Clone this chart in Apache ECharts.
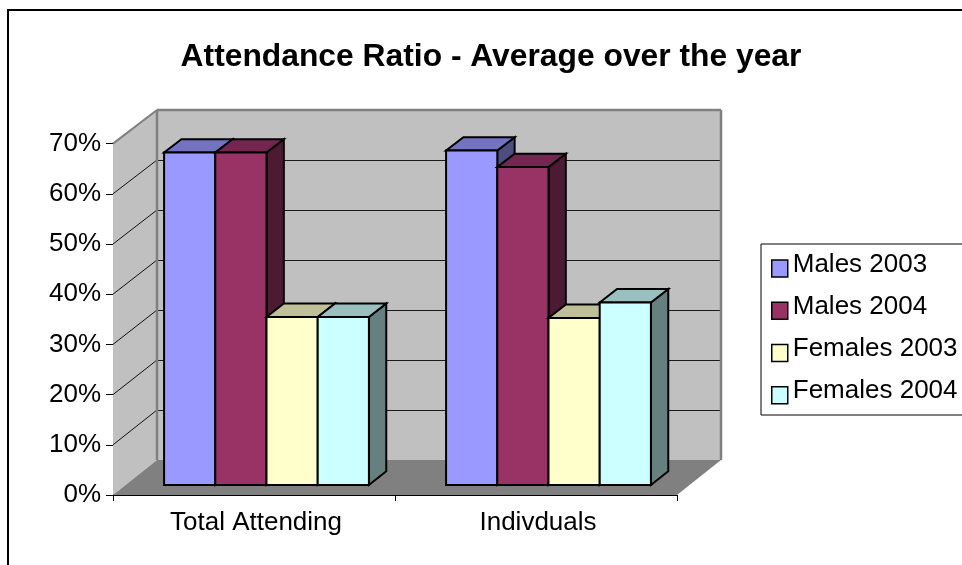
<!DOCTYPE html>
<html>
<head>
<meta charset="utf-8">
<style>
  html, body { margin: 0; padding: 0; background: #fff; }
  #chart { width: 962px; height: 565px; }
</style>
<script src="https://cdn.jsdelivr.net/npm/echarts@6/dist/echarts.min.js"></script>
</head>
<body>
<div id="chart"></div>
<script>
const categories = ['Total Attending', 'Indivduals'];
const seriesNames = ['Males 2003', 'Males 2004', 'Females 2003', 'Females 2004'];
const males2003 = [0.663, 0.667];
const males2004 = [0.663, 0.634];
const females2003 = [0.335, 0.333];
const females2004 = [0.335, 0.364];
const frontColors = ['#9999ff', '#993366', '#ffffcc', '#ccffff'];
const topColors = ['#7373bf', '#732650', '#bfbf99', '#99bfbf'];
const sideColors = ['#4d4d80', '#4d1a33', '#808066', '#668080'];
const axisTicks = [0, 0.1, 0.2, 0.3, 0.4, 0.5, 0.6, 0.7];

const FONT = '"Liberation Sans", Arial, sans-serif';

// Oblique depth of the box the columns stand in, in pixels.
const DEPTH_X = 44;
const DEPTH_Y = 35;
const DEPTH_SHRINK = 0.004;
// Columns occupy this slice of the floor depth.
const BAR_NEAR = 0.286;
const BAR_FAR = 0.68;
// Share of each category band: outer gap and single column width.
const BAR_GAP = 0.1365;
const BAR_WIDTH = 0.1816;

function projector(api) {
  const baseY = api.coord([0, 0])[1];
  return function (x, y, t) {
    return [x + DEPTH_X * t, y - DEPTH_Y * t + (baseY - y) * DEPTH_SHRINK * t];
  };
}

function poly(points, fill, stroke, lineWidth) {
  return {
    type: 'polygon',
    shape: { points },
    style: { fill, stroke: stroke || null, lineWidth: lineWidth || 0, lineJoin: 'miter' }
  };
}

function segment(a, b, stroke, lineWidth) {
  return {
    type: 'line',
    shape: { x1: a[0], y1: a[1], x2: b[0], y2: b[1] },
    style: { stroke, lineWidth }
  };
}

// Side wall, back wall, floor and the gridlines running across the walls.
function renderBox(params, api) {
  if (params.dataIndex !== 0) return;
  const project = projector(api);
  const band = api.size([1, 0])[0];
  const left = api.coord([0, 0])[0] - band / 2;
  const right = left + band * categories.length;
  const yAt = v => api.coord([0, v])[1];
  const y0 = yAt(0);
  const yTop = yAt(axisTicks[axisTicks.length - 1]);
  const children = [
    poly([project(left, yTop, 0), project(left, yTop, 1), project(left, y0, 1), project(left, y0, 0)], '#c0c0c0'),
    poly([project(left, yTop, 1), project(right, yTop, 1), project(right, y0, 1), project(left, y0, 1)], '#c0c0c0'),
    poly([project(left, y0, 0), project(left, y0, 1), project(right, y0, 1), project(right, y0, 0)], '#808080')
  ];
  axisTicks.slice(1, -1).forEach(v => {
    const y = yAt(v);
    const back = project(left, y, 1);
    const crisp = Math.round(back[1]) + 0.5;
    children.push(segment(project(left, y, 0), back, '#111', 1));
    children.push(segment([back[0], crisp], [project(right, y, 1)[0], crisp], '#1a1a1a', 1));
  });
  children.push(
    segment(project(left, yTop, 0), project(left, yTop, 1), '#808080', 2),
    segment(project(left, yTop, 1), project(right, yTop, 1), '#808080', 2.5),
    segment(project(left, yTop, 1), project(left, y0, 1), '#808080', 2.5),
    segment(project(right, yTop, 1), project(right, y0, 1), '#808080', 2.5)
  );
  return { type: 'group', children };
}

// One column: side face, top face, then the front face.
function columnRenderer(seriesIndex) {
  return function (params, api) {
    const project = projector(api);
    const band = api.size([1, 0])[0];
    const catIndex = api.value(0);
    const centre = api.coord([catIndex, 0])[0];
    const x0 = centre - band / 2 + band * (BAR_GAP + BAR_WIDTH * seriesIndex);
    const x1 = x0 + band * BAR_WIDTH;
    const yBase = api.coord([catIndex, 0])[1];
    const yVal = api.coord([catIndex, api.value(1)])[1];
    const stroke = '#000';
    const lw = 2;
    const a = project(x0, yVal, BAR_NEAR);
    const b = project(x1, yVal, BAR_NEAR);
    const c = project(x1, yBase, BAR_NEAR);
    const d = project(x0, yBase, BAR_NEAR);
    const aFar = project(x0, yVal, BAR_FAR);
    const bFar = project(x1, yVal, BAR_FAR);
    const cFar = project(x1, yBase, BAR_FAR);
    return {
      type: 'group',
      children: [
        poly([b, bFar, cFar, c], sideColors[seriesIndex], stroke, lw),
        poly([a, aFar, bFar, b], topColors[seriesIndex], stroke, lw),
        poly([a, b, c, d], frontColors[seriesIndex], stroke, lw)
      ]
    };
  };
}

const valueSets = [males2003, males2004, females2003, females2004];

const option = {
  backgroundColor: '#fff',
  animation: false,
  title: {
    text: 'Attendance Ratio - Average over the year',
    left: 486,
    top: 36,
    textAlign: 'center',
    textStyle: { fontFamily: FONT, fontSize: 31.8, fontWeight: 'bold', color: '#000' }
  },
  grid: { left: 113, top: 143.6, width: 564, height: 351.4, containLabel: false },
  legend: {
    orient: 'vertical',
    left: 761,
    top: 244,
    width: 240,
    padding: [7.5, 40, 10.5, 10],
    itemWidth: 16,
    itemHeight: 17,
    itemGap: 16,
    icon: 'rect',
    backgroundColor: '#fff',
    borderColor: '#000',
    borderWidth: 1,
    formatter: '{t|{name}}',
    data: seriesNames.map((name, i) => ({
      name,
      itemStyle: { color: frontColors[i], borderColor: '#000', borderWidth: 1.5 }
    })),
    textStyle: {
      fontFamily: FONT,
      fontSize: 26,
      color: '#000',
      rich: { t: { fontFamily: FONT, fontSize: 26, color: '#000', padding: [0, 0, 8, 0] } }
    }
  },
  xAxis: {
    type: 'category',
    data: categories,
    axisLine: { lineStyle: { color: '#000', width: 1 } },
    axisTick: { show: true, alignWithLabel: false, length: 6, lineStyle: { color: '#000' } },
    axisLabel: { fontFamily: FONT, fontSize: 26, color: '#000', margin: 15, padding: [0, 0, 0, 4] },
    splitLine: { show: false }
  },
  yAxis: {
    type: 'value',
    min: 0,
    max: 0.7,
    interval: 0.1,
    axisLine: { show: true, lineStyle: { color: '#000', width: 1 } },
    axisTick: { show: true, length: 7, lineStyle: { color: '#000' } },
    axisLabel: {
      fontFamily: FONT,
      fontSize: 26,
      color: '#000',
      margin: 12,
      formatter: v => Math.round(v * 100) + '%'
    },
    splitLine: { show: false }
  },
  graphic: [
    { type: 'line', silent: true, shape: { x1: 8, y1: 10, x2: 962, y2: 10 }, style: { stroke: '#000', lineWidth: 2 } },
    { type: 'line', silent: true, shape: { x1: 8, y1: 9, x2: 8, y2: 565 }, style: { stroke: '#000', lineWidth: 2 } }
  ],
  series: [
    {
      type: 'custom',
      name: 'box',
      coordinateSystem: 'cartesian2d',
      renderItem: renderBox,
      data: [[0, 0]],
      z: 1,
      silent: true
    }
  ].concat(seriesNames.map((name, i) => ({
    type: 'custom',
    name,
    coordinateSystem: 'cartesian2d',
    renderItem: columnRenderer(i),
    encode: { x: 0, y: 1 },
    data: valueSets[i].map((v, c) => [c, v]),
    itemStyle: { color: frontColors[i] },
    z: 2 + i
  })))
};

echarts.init(document.getElementById('chart'), null, { renderer: 'canvas' }).setOption(option);
</script>
</body>
</html>
